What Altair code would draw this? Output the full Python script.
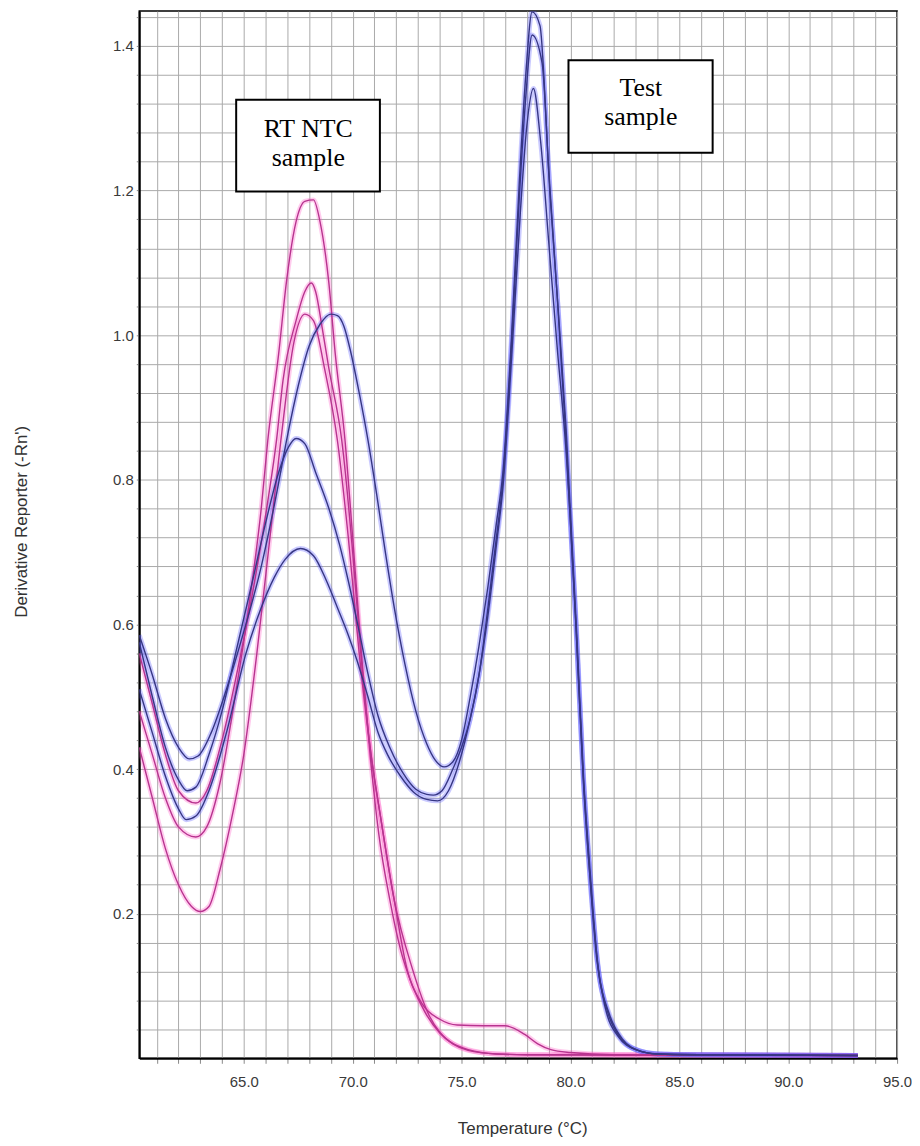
import altair as alt
import pandas as pd

# ---- data ----
# Test sample curves (blue)
test_a = [[60.2,0.585],[60.8,0.53],[61.4,0.47],[62.0,0.43],[62.5,0.414],[62.9,0.418],[63.5,0.45],[64.2,0.51],
          [65.0,0.59],[65.8,0.68],[66.5,0.78],[67.0,0.86],[67.5,0.93],[68.0,0.985],[68.5,1.015],[69.0,1.029],
          [69.3,1.027],[69.6,1.012],[69.9,0.978],[70.3,0.92],[70.7,0.855],[71.1,0.78],[71.5,0.70],[71.9,0.625],
          [72.4,0.545],[72.9,0.48],[73.4,0.435],[73.8,0.412],[74.2,0.403],[74.6,0.41],[75.0,0.44],[75.4,0.50],
          [75.8,0.57],[76.2,0.65],[76.6,0.74],[76.9,0.81],[77.3,1.0],[77.65,1.21],[77.95,1.36],[78.24,1.447],
          [78.6,1.428],[79.0,1.23],[79.4,1.05],[79.75,0.88],[80.25,0.6],[80.55,0.41],[80.85,0.27],[81.2,0.14],
          [81.6,0.07],[82.2,0.03],[83.0,0.012],[84.0,0.006],[86.0,0.005],[93.2,0.004]]
test_b = [[60.2,0.575],[60.8,0.50],[61.4,0.43],[62.0,0.385],[62.4,0.370],[62.8,0.375],[63.4,0.42],[64.0,0.48],
          [64.7,0.57],[65.4,0.66],[66.0,0.74],[66.6,0.81],[67.05,0.845],[67.4,0.857],[67.8,0.85],[68.3,0.81],
          [68.9,0.761],[69.4,0.71],[69.8,0.66],[70.3,0.59],[70.7,0.532],[71.16,0.474],[71.7,0.43],[72.3,0.395],
          [72.9,0.372],[73.4,0.365],[73.7,0.364],[74.1,0.37],[74.6,0.40],[75.0,0.43],[75.4,0.47],[75.8,0.53],
          [76.2,0.62],[76.6,0.72],[76.9,0.80],[77.3,0.99],[77.65,1.19],[77.95,1.33],[78.24,1.415],[78.7,1.376],
          [79.05,1.2],[79.45,1.03],[79.8,0.87],[80.3,0.58],[80.6,0.39],[80.9,0.26],[81.25,0.13],[81.7,0.065],
          [82.3,0.028],[83.1,0.011],[84.0,0.006],[86.0,0.005],[93.2,0.004]]
test_c = [[60.2,0.51],[60.8,0.45],[61.4,0.39],[62.0,0.345],[62.35,0.33],[62.8,0.335],[63.4,0.37],[64.2,0.45],
          [65.1,0.56],[65.8,0.623],[66.4,0.665],[66.9,0.69],[67.6,0.705],[68.2,0.695],[68.8,0.66],[69.3,0.623],
          [69.8,0.585],[70.2,0.55],[70.7,0.50],[71.16,0.451],[71.6,0.42],[72.2,0.39],[72.8,0.368],[73.4,0.358],
          [73.9,0.356],[74.4,0.37],[74.9,0.41],[75.4,0.47],[75.8,0.53],[76.2,0.61],[76.6,0.71],[76.9,0.79],
          [77.3,0.97],[77.7,1.17],[78.0,1.29],[78.3,1.341],[78.63,1.268],[79.0,1.13],[79.4,0.98],[79.8,0.84],
          [80.3,0.57],[80.6,0.38],[80.9,0.25],[81.3,0.12],[81.8,0.06],[82.4,0.026],[83.2,0.01],[84.0,0.006],
          [86.0,0.005],[93.2,0.004]]
# RT NTC curves (pink)
ntc_a = [[60.2,0.48],[60.8,0.42],[61.4,0.36],[62.0,0.32],[62.8,0.306],[63.3,0.32],[63.9,0.38],[64.6,0.50],
         [65.3,0.64],[65.8,0.76],[66.1,0.854],[66.6,0.974],[66.96,1.074],[67.4,1.157],[67.8,1.185],[68.2,1.187],
         [68.5,1.157],[68.9,1.074],[69.2,0.974],[69.65,0.854],[70.0,0.72],[70.4,0.56],[70.8,0.42],[71.2,0.31],
         [71.7,0.22],[72.2,0.15],[72.75,0.1],[73.3,0.065],[74.0,0.035],[74.6,0.02],[75.3,0.011],[76.6,0.006],
         [78.0,0.005],[93.2,0.004]]
ntc_b = [[60.2,0.56],[60.8,0.49],[61.4,0.42],[62.0,0.37],[62.8,0.353],[63.3,0.37],[64.0,0.44],[64.8,0.55],
         [65.5,0.66],[66.1,0.77],[66.5,0.854],[66.8,0.937],[67.4,1.02],[67.8,1.06],[68.1,1.072],[68.3,1.06],
         [68.6,1.01],[68.9,0.955],[69.5,0.854],[70.0,0.70],[70.4,0.55],[70.8,0.43],[71.3,0.33],[71.9,0.22],
         [72.5,0.123],[73.2,0.075],[74.0,0.054],[74.8,0.046],[76.0,0.045],[77.0,0.045],[77.9,0.033],[78.5,0.02],
         [79.1,0.012],[80.0,0.008],[82.0,0.005],[93.2,0.004]]
ntc_c = [[60.2,0.43],[60.8,0.36],[61.4,0.29],[62.0,0.24],[62.6,0.21],[63.0,0.203],[63.4,0.21],[63.9,0.26],
         [64.5,0.34],[65.0,0.42],[65.6,0.56],[66.2,0.72],[66.7,0.854],[67.3,0.99],[67.8,1.029],[68.2,1.02],
         [68.7,0.955],[69.3,0.854],[69.8,0.72],[70.3,0.56],[70.8,0.43],[71.3,0.33],[71.9,0.22],[72.75,0.123],
         [73.5,0.06],[74.0,0.036],[75.3,0.012],[76.6,0.006],[78.0,0.005],[93.2,0.004]]

curves = {"ntc_a": ("ntc", ntc_a), "ntc_b": ("ntc", ntc_b), "ntc_c": ("ntc", ntc_c),
          "test_a": ("test", test_a), "test_b": ("test", test_b), "test_c": ("test", test_c)}

x_ticks = list(range(61, 96))
y_ticks = [round(0.04 * i, 2) for i in range(1, 37)]

box_x1 = [64.65, 79.91]
box_x2 = [71.25, 86.53]
box_y1 = [1.3255, 1.380]
box_y2 = [1.1986, 1.252]
label_text = ["RT NTC", "sample", "Test", "sample"]
label_x = [67.96, 67.96, 83.23, 83.23]
label_y = [1.2745, 1.2345, 1.331, 1.291]

# ---- tables ----
rows = []
for name, (grp, pts) in curves.items():
    for i, (t, v) in enumerate(pts):
        rows.append({"temp": t, "value": v, "series": name, "group": grp, "i": i})
df = pd.DataFrame(rows)
boxes = pd.DataFrame({"temp": box_x1, "temp2": box_x2, "value": box_y1, "value2": box_y2})
labels = pd.DataFrame({"temp": label_x, "value": label_y, "text": label_text})

xscale = alt.Scale(domain=[60.2, 95.0], nice=False, zero=False)
yscale = alt.Scale(domain=[0, 1.448], nice=False, zero=False)

xaxis = alt.Axis(values=x_ticks, labelExpr="datum.value % 5 == 0 ? format(datum.value, '.1f') : ''",
                 grid=True, gridColor="#a9a9a9", gridWidth=1, tickColor="#888888", tickSize=5,
                 domainColor="black", domainWidth=2, labelFont="Liberation Sans", labelFontSize=15,
                 labelColor="#3a3a3a", labelPadding=11, labelOverlap=False, labelFlush=False,
                 title="Temperature (°C)", titleFont="Liberation Sans", titleFontSize=17,
                 titleFontWeight="normal", titleColor="#333333", titleX=385, titleY=76,
                 titleBaseline="alphabetic", titleAlign="center")
yaxis = alt.Axis(values=y_ticks,
                 labelExpr="(abs(datum.value*5 - round(datum.value*5)) < 0.001) ? format(datum.value, '.1f') : ''",
                 grid=True, gridColor="#a9a9a9", gridWidth=1, tickColor="#888888", tickSize=3,
                 domainColor="black", domainWidth=2, labelFont="Liberation Sans", labelFontSize=15,
                 labelColor="#3a3a3a", labelPadding=3, labelOverlap=False, labelFlush=False,
                 title="Derivative Reporter (-Rn')", titleFont="Liberation Sans", titleFontSize=17,
                 titleFontWeight="normal", titleColor="#333333", titleX=-118, titleY=513,
                 titleAngle=270, titleBaseline="middle", titleAlign="center")

X = alt.X("temp:Q", scale=xscale, axis=xaxis)
Y = alt.Y("value:Q", scale=yscale, axis=yaxis)

base = alt.Chart(df)
halo = base.mark_line(strokeWidth=5, opacity=0.32, interpolate="monotone", clip=True).encode(
    x=X, y=Y,
    color=alt.Color("group:N", scale=alt.Scale(domain=["ntc", "test"], range=["#ff5cc8", "#5a5aff"]), legend=None),
    detail="series:N",
    order="i:Q",
)
core = base.mark_line(strokeWidth=1.4, interpolate="monotone", clip=True).encode(
    x=X, y=Y,
    color=alt.Color("group:N", scale=alt.Scale(domain=["ntc", "test"], range=["#b8338f", "#363684"]), legend=None),
    detail="series:N",
    order="i:Q",
)
rects = alt.Chart(boxes).mark_rect(fill="white", stroke="black", strokeWidth=2).encode(
    x=X, x2="temp2:Q", y=Y, y2="value2:Q",
)
texts = alt.Chart(labels).mark_text(font="Liberation Serif", fontSize=26, align="center",
                                    baseline="alphabetic", color="black").encode(
    x=X, y=Y, text="text:N",
)

chart = alt.layer(halo, core, rects, texts).resolve_scale(color="independent").properties(
    width=762, height=1053,
    autosize=alt.AutoSizeParams(type="none"),
    padding={"left": 132, "top": 0, "right": 15, "bottom": 80},
    background="white",
).configure_view(stroke="black", strokeWidth=1.5)

chart.save("out.html", embed_options={"renderer": "svg", "actions": False})
